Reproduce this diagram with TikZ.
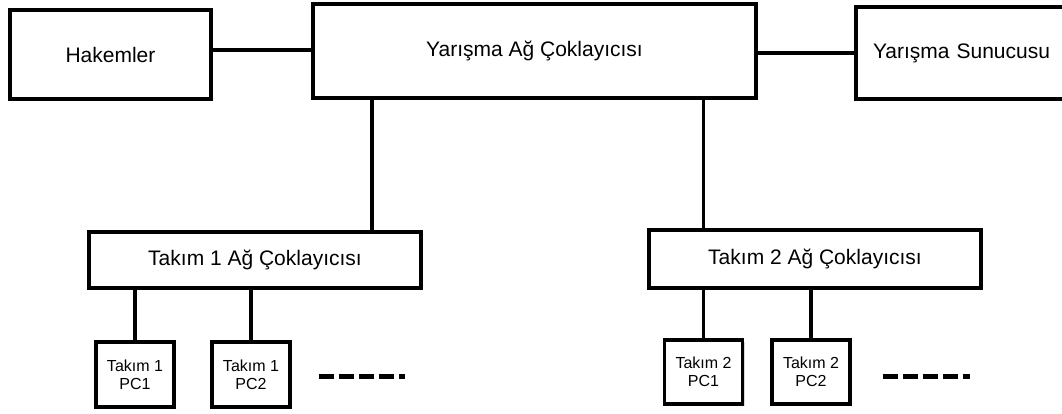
\documentclass[tikz,border=0pt]{standalone}
\usepackage{fontspec}
\setmainfont{Liberation Sans}
\usetikzlibrary{positioning,shadows}
\tikzset{
  kutu/.style={draw, line width=3.5pt, fill=white, inner sep=0pt,
    drop shadow={opacity=0.3, shadow xshift=2pt, shadow yshift=-2pt},
    font=\fontsize{21}{25}\selectfont},
  pc/.style={kutu, minimum width=78pt, minimum height=65pt, align=center,
    font=\fontsize{16}{18}\selectfont},
  hat/.style={line width=3.5pt},
  nokta/.style={line width=5pt, dash pattern=on 15pt off 5pt}
}

\begin{document}
\begin{tikzpicture}[x=1pt,y=1pt,node distance=2cm,on grid]
   \useasboundingbox (0,0) rectangle (1062,-413);
   \node[kutu, minimum width=443pt, minimum height=94pt] (main) at (534.5,-51) {Yarışma Ağ Çoklayıcısı};
   \node[kutu, minimum width=201pt, minimum height=89pt] (hak) [below left=3.5pt and 424pt of main] {Hakemler};
   \node[kutu, minimum width=219pt, minimum height=92pt, text width=185pt, align=left] (sun) [below right=2pt and 431pt of main] {Yarışma Sunucusu};
   \node[kutu, minimum width=332pt, minimum height=56pt] (t_1) [below left=209pt and 279.5pt of main] {Takım 1 Ağ Çoklayıcısı};
   \node[kutu, minimum width=332pt, minimum height=58pt] (t_2) [below right=208pt and 280.5pt of main] {Takım 2 Ağ Çoklayıcısı};
   \node[pc] (p_11) [below left=114.5pt and 120pt of t_1] {Takım 1\\PC1};
   \node[pc] (p_12) [right=116pt of p_11] {Takım 1\\PC2};
   \node[pc, minimum height=64pt] (p_21) [below left=113pt and 111.5pt of t_2] {Takım 2\\PC1};
   \node[pc, minimum height=64pt] (p_22) [right=107.5pt of p_21] {Takım 2\\PC2};
   \coordinate (j_1) at (372,0);
    % baglantilar
    \draw[hat] ([yshift=4.5pt]hak.east) -- ([yshift=4.5pt]hak.east -| main.west);
    \draw[hat] (main.east |- sun) -- (sun.west);
    \draw[hat] (main.south -| j_1) -- (t_1.north -| j_1);
    \draw[hat] (main.south -| p_21) -- (t_2.north -| p_21);
    \draw[hat] (t_1.south -| p_11) -- (p_11.north);
    \draw[hat] (t_1.south -| p_12) -- (p_12.north);
    \draw[hat] (t_2.south -| p_21) -- (p_21.north);
    \draw[hat] (t_2.south -| p_22) -- (p_22.north);
    % devami
    \draw[nokta] ([shift={(27pt,-2pt)}]p_12.east) -- ++(86,0);
    \draw[nokta] ([shift={(31pt,-4pt)}]p_22.east) -- ++(87,0);
\end{tikzpicture}
\end{document}
